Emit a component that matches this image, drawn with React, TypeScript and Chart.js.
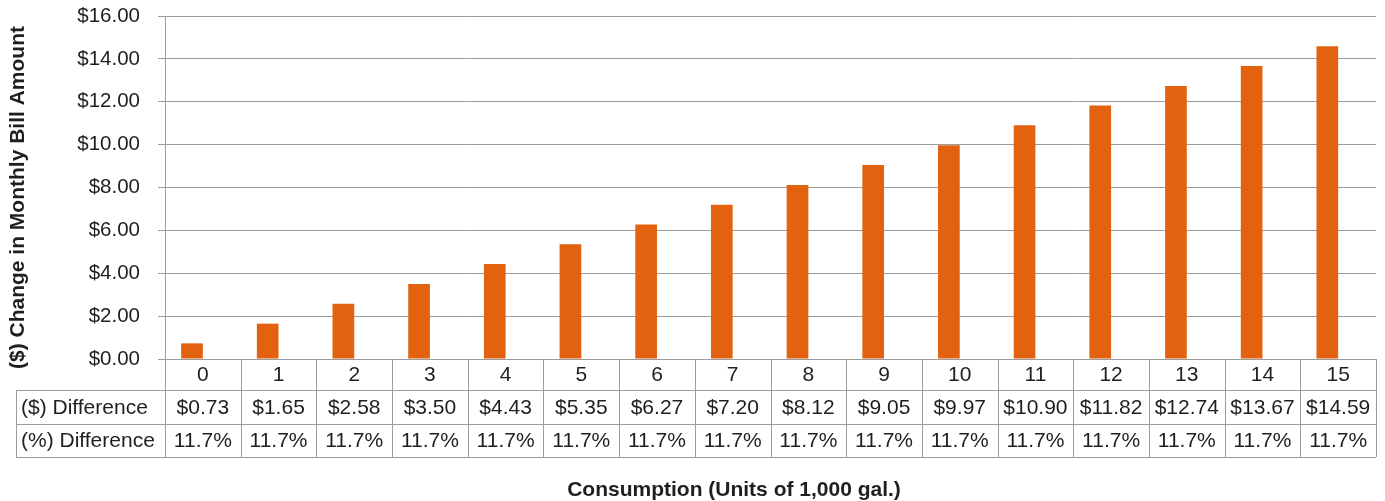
import React, { useEffect, useRef } from "react";
import { Chart, registerables } from "chart.js";

Chart.register(...registerables);

// Consumption in units of 1,000 gallons
const categories = ["0", "1", "2", "3", "4", "5", "6", "7", "8", "9", "10", "11", "12", "13", "14", "15"];
// Change in monthly bill, dollars
const dollarDiff = [0.73, 1.65, 2.58, 3.5, 4.43, 5.35, 6.27, 7.2, 8.12, 9.05, 9.97, 10.9, 11.82, 12.74, 13.67, 14.59];
// Change in monthly bill, percent
const pctDiff = [11.7, 11.7, 11.7, 11.7, 11.7, 11.7, 11.7, 11.7, 11.7, 11.7, 11.7, 11.7, 11.7, 11.7, 11.7, 11.7];
const yTicks = [0, 2, 4, 6, 8, 10, 12, 14, 16];

const rowLabels = ["($) Difference", "(%) Difference"];
const yTitle = "($) Change in Monthly Bill Amount";
const xTitle = "Consumption (Units of 1,000 gal.)";

const FONT = "'Liberation Sans', Arial, Helvetica, sans-serif";
const LINE = "#9c9c9c";
const TEXT = "#1f1f1f";
const BAR = "#E36210";

const fmtDollar = (v: number) => "$" + v.toFixed(2);
const fmtPct = (v: number) => v.toFixed(1) + "%";

// Data table under the plot plus both axis titles
const tablePlugin = {
  id: "dataTable",
  afterDraw(chart: any) {
    const ctx = chart.ctx as CanvasRenderingContext2D;
    const area = chart.chartArea;
    const n = categories.length;
    const colW = (area.right - area.left) / n;
    const labelLeft = 16;
    const r0 = area.bottom;
    const r1 = r0 + 31;
    const r2 = r1 + 34;
    const r3 = r2 + 33;
    const px = (v: number) => Math.round(v) + 0.5;

    ctx.save();
    ctx.strokeStyle = LINE;
    ctx.lineWidth = 1;
    ctx.beginPath();
    for (let i = 0; i <= n; i++) {
      const x = px(area.left + i * colW);
      ctx.moveTo(x, r0);
      ctx.lineTo(x, r3);
    }
    ctx.moveTo(px(labelLeft), r1);
    ctx.lineTo(px(labelLeft), r3);
    for (const y of [r1, r2, r3]) {
      ctx.moveTo(labelLeft, px(y));
      ctx.lineTo(area.right, px(y));
    }
    ctx.stroke();

    ctx.fillStyle = TEXT;
    ctx.font = `21px ${FONT}`;
    ctx.textBaseline = "middle";
    ctx.textAlign = "center";
    const xs = chart.scales.x;
    categories.forEach((c, i) => {
      const cx = xs.getPixelForValue(i);
      ctx.fillText(c, cx, (r0 + r1) / 2 + 1);
      ctx.fillText(fmtDollar(dollarDiff[i]), cx, (r1 + r2) / 2 + 1);
      ctx.fillText(fmtPct(pctDiff[i]), cx, (r2 + r3) / 2 + 1);
    });
    ctx.textAlign = "left";
    ctx.fillText(rowLabels[0], 21, (r1 + r2) / 2 + 1);
    ctx.fillText(rowLabels[1], 21, (r2 + r3) / 2 + 1);

    // axis titles
    ctx.font = `bold 21px ${FONT}`;
    ctx.textAlign = "center";
    ctx.textBaseline = "alphabetic";
    ctx.fillText(xTitle, 734, 496);
    ctx.save();
    ctx.translate(24, (area.top + area.bottom) / 2 + 10);
    ctx.rotate(-Math.PI / 2);
    ctx.fillText(yTitle, 0, 0);
    ctx.restore();
    ctx.restore();
  },
};

export default function App() {
  const ref = useRef<HTMLCanvasElement | null>(null);

  useEffect(() => {
    document.body.style.margin = "0";
    const canvas = ref.current;
    if (!canvas) return;
    const chart = new Chart(canvas, {
      type: "bar",
      data: {
        labels: categories,
        datasets: [
          {
            label: rowLabels[0],
            data: dollarDiff,
            backgroundColor: BAR,
            yAxisID: "y",
            categoryPercentage: 0.573,
            barPercentage: 1,
          },
          {
            label: rowLabels[1],
            data: pctDiff,
            backgroundColor: "rgba(0,0,0,0)",
            yAxisID: "yPct",
            categoryPercentage: 0.573,
            barPercentage: 1,
          },
        ],
      },
      options: {
        responsive: false,
        animation: false,
        devicePixelRatio: 1,
        layout: { padding: { top: 16, right: 9, bottom: 142, left: 0 } },
        plugins: {
          legend: { display: false },
          tooltip: { enabled: false },
        },
        scales: {
          x: { type: "category", display: false, offset: true },
          y: {
            min: 0,
            max: 16,
            afterBuildTicks: (scale: any) => {
              scale.ticks = yTicks.map((v) => ({ value: v }));
            },
            afterFit: (scale: any) => {
              scale.width = 165;
              scale.paddingTop = 0;
              scale.paddingBottom = 0;
            },
            grid: { color: LINE, lineWidth: 1, tickLength: 7, drawTicks: true },
            border: { display: true, color: LINE, width: 1 },
            ticks: {
              padding: 18,
              color: TEXT,
              font: { family: FONT, size: 20.5 },
              callback: (v: any) => fmtDollar(Number(v)),
            },
          },
          yPct: { display: false, min: 0, max: 100 },
        },
      },
      plugins: [tablePlugin],
    });
    return () => chart.destroy();
  }, []);

  return (
    <div style={{ width: 1385, height: 501 }}>
      <canvas ref={ref} width={1385} height={501} />
    </div>
  );
}
